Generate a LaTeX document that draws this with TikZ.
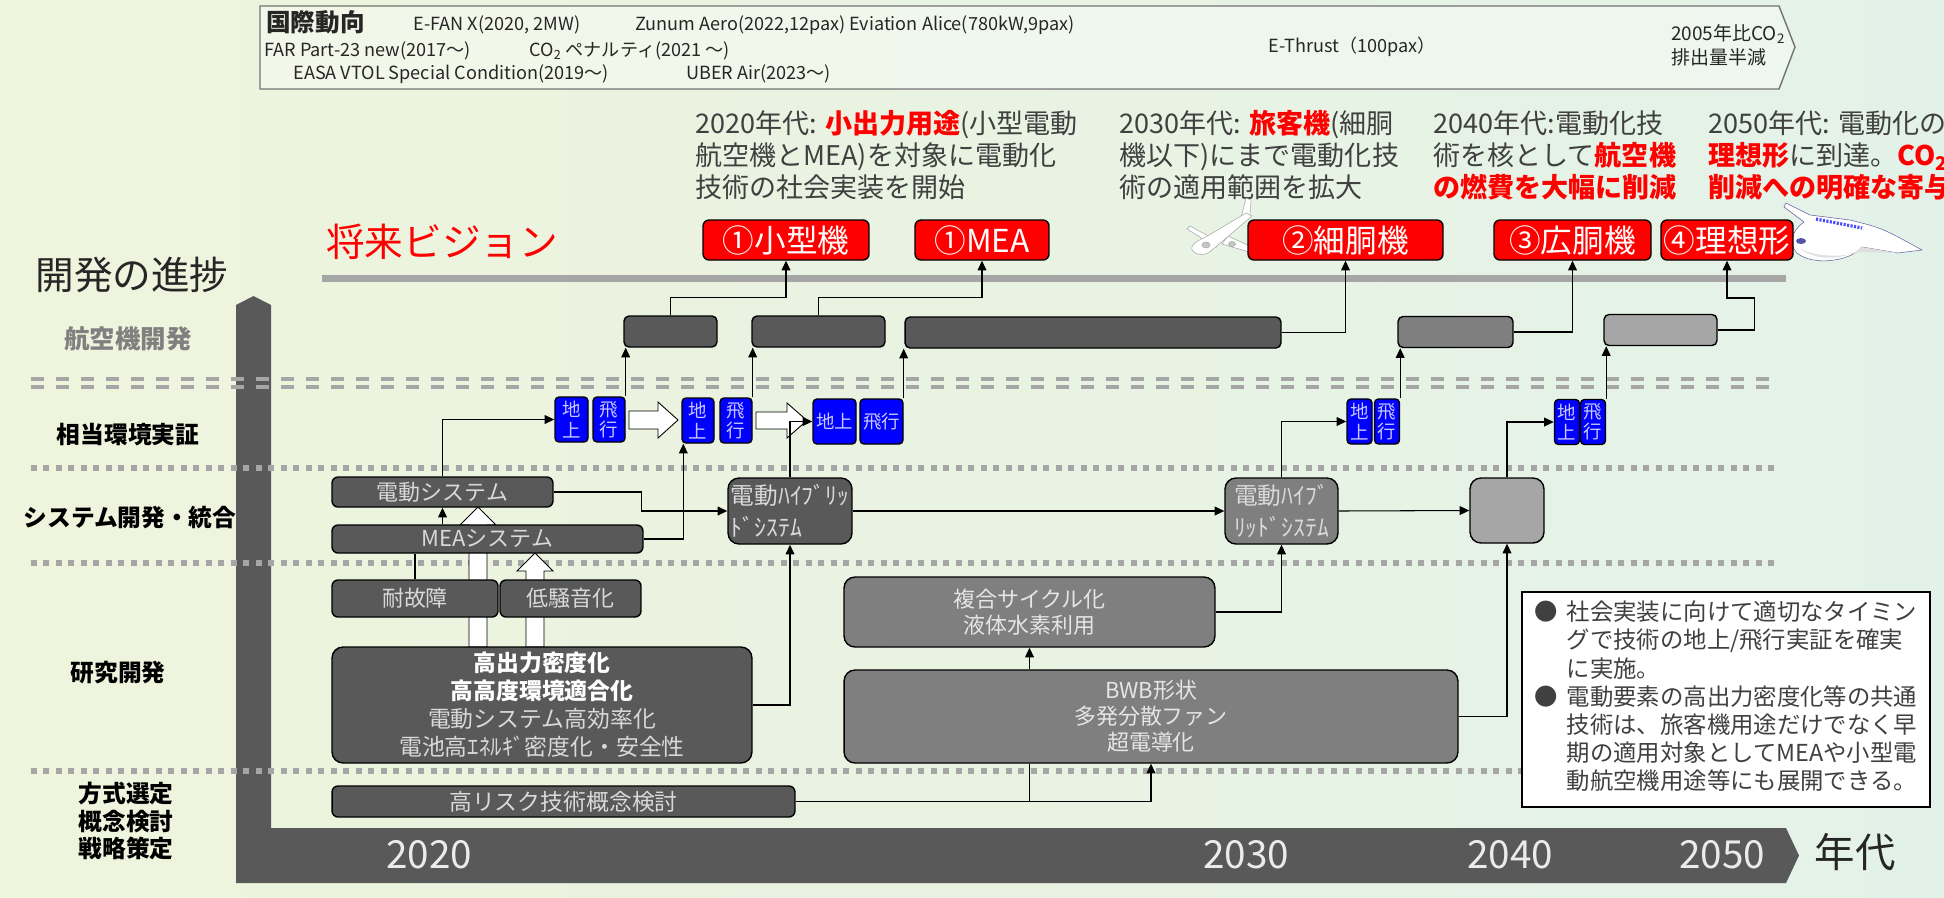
\documentclass[tikz,border=0pt]{standalone}
\usepackage{fontspec}
\setmainfont{Noto Sans CJK JP}
\usetikzlibrary{arrows.meta,calc}

\definecolor{boxdark}{HTML}{595959}
\definecolor{boxmid}{HTML}{7F7F7F}
\definecolor{boxlight}{HTML}{A6A6A6}
\definecolor{linegray}{HTML}{A6A6A6}
\definecolor{txtlight}{HTML}{D9D9D9}
\definecolor{txtdesc}{HTML}{404040}
\definecolor{bgleft}{HTML}{EFF4DC}
\definecolor{bgright}{HTML}{E3F2E8}
\definecolor{demoblue}{HTML}{0000FF}
\definecolor{demotxt}{HTML}{C8C8FF}

\newcommand{\redbf}[1]{{\color{red}\bfseries #1}}

\begin{document}
\begin{tikzpicture}[x=0.02cm, y=-0.02cm,
    vis/.style={draw=black, line width=0.8pt, fill=red, text=white, rounded corners=0.12cm, minimum height=0.8cm, inner sep=0pt, font=\fontsize{18}{20}\selectfont},
    dev/.style={draw=black, line width=0.8pt, fill=boxdark, rounded corners=0.1cm, minimum height=0.62cm, inner sep=0pt},
    demo/.style={draw=black, line width=0.8pt, fill=demoblue, text=demotxt, rounded corners=0.08cm, minimum height=0.9cm, inner sep=0pt, align=center, font=\fontsize{10.5}{11.5}\selectfont},
    rd/.style={draw=black, line width=0.8pt, fill=boxdark, text=txtlight, rounded corners=0.12cm, inner sep=0pt, align=center, font=\fontsize{12.5}{15.5}\selectfont},
    hyb/.style={rd, rounded corners=0.22cm, minimum width=2.48cm, minimum height=1.32cm, align=left, font=\fontsize{13.5}{18}\selectfont},
    trend/.style={anchor=west, inner sep=0pt, text=black!85, font=\fontsize{10.3}{12}\selectfont},
    desc/.style={anchor=west, align=left, inner sep=0pt, text=txtdesc, font=\fontsize{15.4}{18.2}\selectfont},
    rowlbl/.style={align=center, inner sep=0pt, font=\bfseries\fontsize{13.5}{15.5}\selectfont},
    yr/.style={text=white!92!black, inner sep=0pt, font=\fontsize{22}{24}\selectfont},
    dbl/.style={linegray, line width=0.08cm, dash pattern=on 0.26cm off 0.24cm},
    sq/.style={linegray, line width=0.12cm, dash pattern=on 0.12cm off 0.13cm},
    wblock/.style={draw=black, line width=0.5pt, fill=white},
    conn/.style={-{Triangle[length=5.5pt,width=5pt]}, line width=0.6pt}
]
    \useasboundingbox (0,0) rectangle (1944,897);
    \clip (0,0) rectangle (1944,897);
    \shade[left color=bgleft, right color=bgright] (0,0) rectangle (1944,897);

    % international trends banner
    \draw[black!55, line width=0.8pt, fill=white, fill opacity=0.35] (260,6) -- (1779,6) -- (1795,47) -- (1779,89) -- (260,89) -- cycle;
    \node[trend, font=\bfseries\fontsize{14}{15}\selectfont] (intl) at (266,22) {国際動向};
    \node[trend] (efan) at (413,25) {E-FAN X(2020, 2MW)};
    \node[trend] (zunum) at (635,25) {Zunum Aero(2022,12pax)};
    \node[trend] (alice) at (849,25) {Eviation Alice(780kW,9pax)};
    \node[trend] (far) at (264,51) {FAR Part-23 new(2017～)};
    \node[trend] (co2pen) at (529,51) {CO\textsubscript{2} ペナルティ(2021 ～)};
    \node[trend] (easa) at (293,74) {EASA VTOL Special Condition(2019～)};
    \node[trend] (uber) at (686,74) {UBER Air(2023～)};
    \node[trend] (ethrust) at (1268,47) {E-Thrust（100pax）};
    \node[trend, align=left, font=\fontsize{10.8}{13.5}\selectfont] (half) at (1671,45) {2005年比CO\textsubscript{2}\\排出量半減};

    % decade goals
    \node[desc] (d2020) at (695,155) {2020年代: \redbf{小出力用途}(小型電動\\航空機とMEA)を対象に電動化\\技術の社会実装を開始};
    \node[desc] (d2030) at (1119,155) {2030年代: \redbf{旅客機}(細胴\\機以下)にまで電動化技\\術の適用範囲を拡大};
    \node[desc] (d2040) at (1433,155) {2040年代:電動化技\\術を核として\redbf{航空機}\\\redbf{の燃費を大幅に削減}};
    \node[desc] (d2050) at (1708,155) {2050年代: 電動化の\\\redbf{理想形}に到達。\redbf{CO\textsubscript{2}}\\\redbf{削減への明確な寄与}};

    \node[text=red, font=\fontsize{22}{24}\selectfont] (vision) at (442,242) {将来ビジョン};
    \node[text=black!85, font=\fontsize{22}{24}\selectfont] (progress) at (132,275) {開発の進捗};
    \draw[linegray, line width=0.14cm] (322,278) -- (1786,278);

    % aircraft pictures
    \begin{scope}[line width=0.3pt]
        \filldraw[fill=white, draw=gray!70] (1212,238) -- (1190,226) -- (1187,229) -- (1216,247) -- cycle;
        \filldraw[fill=white, draw=gray!70] (1228,236) -- (1252,247) -- (1249,252) -- (1222,244) -- cycle;
        \filldraw[fill=white, draw=gray!70] (1241,218) -- (1246,198) -- (1251,200) -- (1250,215) -- cycle;
        \filldraw[fill=white, draw=gray!70] (1192,250) .. controls (1190,246) and (1196,241) .. (1204,238) -- (1246,213) -- (1252,216) -- (1212,250) .. controls (1206,256) and (1196,256) .. (1192,250) -- cycle;
        \filldraw[fill=gray!45, draw=gray!70] (1206,245) ellipse (4 and 3);
        \filldraw[fill=gray!45, draw=gray!70] (1232,244) ellipse (3.5 and 2.5);
        \filldraw[fill=white, draw=blue!25!gray] (1786,203) -- (1810,215) -- (1850,220) .. controls (1882,228) .. (1922,250) -- (1898,253) -- (1862,247) .. controls (1850,262) and (1812,266) .. (1797,253) .. controls (1788,244) and (1792,230) .. (1804,222) -- (1784,207) -- cycle;
        \fill[gray!25] (1800,248) .. controls (1815,262) and (1848,260) .. (1862,247) -- (1898,253) -- (1860,252) .. controls (1845,257) and (1815,258) .. cycle;
        \draw[blue!70, line width=1.8pt, dash pattern=on 1.2pt off 0.8pt] (1816,219) -- (1862,228);
        \fill[blue!35!gray] (1801,241) ellipse (5 and 3);
    \end{scope}

    % vision targets
    \node[vis, minimum width=3.32cm] (R1) at (786,240) {①小型機};
    \node[vis, minimum width=2.68cm] (R2) at (982,240) {①MEA};
    \node[vis, minimum width=3.9cm] (R3) at (1345.5,240) {②細胴機};
    \node[vis, minimum width=3.14cm] (R4) at (1572.5,240) {③広胴機};
    \node[vis, minimum width=2.64cm] (R5) at (1727,240) {④理想形};

    % axis
    \fill[boxdark] (236,305) -- (253.5,296) -- (271,305) -- (271,828) -- (1786,828) -- (1799,855.5) -- (1786,883) -- (236,883) -- cycle;
    \node[yr] (y2020) at (429,855) {2020};
    \node[yr] (y2030) at (1246,855) {2030};
    \node[yr] (y2040) at (1510,855) {2040};
    \node[yr] (y2050) at (1722,855) {2050};
    \node[text=black!85, font=\fontsize{23}{25}\selectfont] (decade) at (1855,852) {年代};

    % row separators
    \draw[dbl] (31,379) -- (1775,379);
    \draw[dbl] (31,387) -- (1775,387);
    \draw[sq] (31,468) -- (1775,468);
    \draw[sq] (31,563) -- (1775,563);
    \draw[sq] (31,771) -- (1775,771);

    % row labels
    \node[rowlbl, text=black!50, font=\bfseries\fontsize{14.5}{16}\selectfont] (lbl1) at (128,339) {航空機開発};
    \node[rowlbl] (lbl2) at (128,435) {相当環境実証};
    \node[rowlbl] (lbl3) at (130,518) {システム開発・統合};
    \node[rowlbl] (lbl4) at (118,673) {研究開発};
    \node[rowlbl, font=\bfseries\fontsize{13.5}{15.8}\selectfont] (lbl5) at (126,821) {方式選定\\概念検討\\戦略策定};

    % aircraft development
    \node[dev, minimum width=1.86cm] (A1) at (670.5,331.5) {};
    \node[dev, minimum width=2.66cm] (A2) at (818.5,331.5) {};
    \node[dev, minimum width=7.52cm] (A3) at (1093,332.5) {};
    \node[dev, fill=boxmid, minimum width=2.3cm] (A4) at (1455.5,332) {};
    \node[dev, fill=boxlight, minimum width=2.26cm] (A5) at (1660.5,330) {};

    % ground / flight demonstrations
    \node[demo, minimum width=0.66cm] (P1a) at (571.5,419.5) {地\\上};
    \node[demo, minimum width=0.64cm] (P1b) at (609,419.5) {飛\\行};
    \node[demo, minimum width=0.64cm] (P2a) at (698,420.5) {地\\上};
    \node[demo, minimum width=0.64cm] (P2b) at (736,420.5) {飛\\行};
    \node[demo, minimum width=0.86cm] (P3a) at (834.5,421.5) {地上};
    \node[demo, minimum width=0.86cm] (P3b) at (881.5,421.5) {飛行};
    \node[demo, minimum width=0.5cm] (P4a) at (1359.5,421.5) {地\\上};
    \node[demo, minimum width=0.5cm] (P4b) at (1387,421.5) {飛\\行};
    \node[demo, minimum width=0.5cm] (P5a) at (1567,422) {地\\上};
    \node[demo, minimum width=0.5cm] (P5b) at (1593,422) {飛\\行};
    \draw[wblock] (629,411) -- (658,411) -- (658,402) -- (678,420) -- (658,438) -- (658,429) -- (629,429) -- cycle;
    \draw[wblock] (756,412) -- (787,412) -- (787,403) -- (807,420.5) -- (787,438) -- (787,429) -- (756,429) -- cycle;

    % white arrows from core research (run behind the boxes)
    \draw[wblock] (469,647) -- (469,525) -- (460,525) -- (478,507) -- (496,525) -- (487,525) -- (487,647) -- cycle;
    \draw[wblock] (526,647) -- (526,571) -- (517,571) -- (535,553) -- (553,571) -- (544,571) -- (544,647) -- cycle;

    % system development
    \node[rd, minimum width=4.42cm, minimum height=0.6cm] (E1) at (442.5,492) {電動システム};
    \node[rd, minimum width=6.22cm, minimum height=0.56cm] (M1) at (487.5,539) {MEAシステム};
    \node[hyb] (H1) at (790,511) {電動ﾊｲﾌﾞﾘｯ\\ﾄﾞｼｽﾃﾑ};
    \node[hyb, fill=boxmid, minimum width=2.26cm] (H2) at (1281.5,511) {電動ﾊｲﾌﾞ\\ﾘｯﾄﾞｼｽﾃﾑ};
    \node[hyb, fill=boxlight, minimum width=1.48cm, minimum height=1.3cm] (H3) at (1507,510.5) {};

    % research
    \node[rd, minimum width=3.32cm, minimum height=0.74cm] (F1) at (415,598.5) {耐故障};
    \node[rd, minimum width=2.82cm, minimum height=0.74cm] (N1) at (570.5,598.5) {低騒音化};
    \node[rd, rounded corners=0.22cm, minimum width=8.4cm, minimum height=2.32cm, font=\fontsize{13}{15.9}\selectfont] (B1) at (542,705)
        {\textcolor{white}{\bfseries 高出力密度化}\\\textcolor{white}{\bfseries 高高度環境適合化}\\電動システム高効率化\\電池高ｴﾈﾙｷﾞ密度化・安全性};
    \node[rd, fill=boxmid, text=white!90!black, rounded corners=0.22cm, minimum width=7.42cm, minimum height=1.4cm, font=\fontsize{12.5}{14.8}\selectfont] (C1) at (1029.5,612) {複合サイクル化\\液体水素利用};
    \node[rd, fill=boxmid, text=white!90!black, rounded corners=0.22cm, minimum width=12.28cm, minimum height=1.86cm, font=\fontsize{12.5}{14.8}\selectfont] (W1) at (1151,716.5) {BWB形状\\多発分散ファン\\超電導化};
    \node[rd, minimum width=9.26cm, minimum height=0.62cm, font=\fontsize{13}{15}\selectfont] (K1) at (563.5,801.5) {高リスク技術概念検討};

    % notes
    \node[draw=black, line width=0.8pt, fill=white, minimum width=8.16cm, minimum height=4.3cm, inner sep=0pt, text=txtdesc, font=\fontsize{13.3}{15.9}\selectfont] (note) at (1726,699.5)
        {\begin{tabular}{@{}l@{\hspace{5pt}}l@{}}
         ● & 社会実装に向けて適切なタイミン\\
           & グで技術の地上/飛行実証を確実\\
           & に実施。\\
         ● & 電動要素の高出力密度化等の共通\\
           & 技術は、旅客機用途だけでなく早\\
           & 期の適用対象としてMEAや小型電\\
           & 動航空機用途等にも展開できる。
         \end{tabular}};

    % connectors
    \draw[conn] (E1.north) |- (P1a.west);
    \draw[conn] (E1.east) -- ++(88,0) |- (H1.west);
    \draw[conn] (M1.east) -| ($(P2a.south west)+(2,0)$);
    \draw[conn] (E1.south |- M1.north) -- (E1.south);
    \draw[line width=0.6pt] (F1.north) -- (F1.north |- M1.south);
    \draw[conn] (B1.east) -| (H1.south);
    \draw[conn] (H1.north) |- (P3a.west);
    \draw[conn] (H1.east) -- (H2.west);
    \draw[conn] (H2.north) |- (P4a.west);
    \draw[conn] (H2.east) -- (H3.west);
    \draw[conn] (H3.north) |- (P5a.west);
    \draw[conn] (C1.east) -| (H2.south);
    \draw[conn] (C1.south |- W1.north) -- (C1.south);
    \draw[conn] (W1.east) -| (H3.south);
    \draw[conn] (K1.east) -| (W1.south);
    \draw[line width=0.6pt] (C1.south |- K1.east) -- (C1.south |- W1.south);
    \draw[conn] (P1b.north east) -- (P1b.north east |- A1.south);
    \draw[conn] (P2b.north east) -- (P2b.north east |- A2.south);
    \draw[conn] (P3b.north east) -- (P3b.north east |- A3.south);
    \draw[conn] (P4b.north east) -- (P4b.north east |- A4.south);
    \draw[conn] (P5b.north east) -- (P5b.north east |- A5.south);
    \draw[conn] (A1.north) -- ++(0,-18) -| (R1.south);
    \draw[conn] (A2.north) -- ++(0,-18) -| (R2.south);
    \draw[conn] (A3.east) -| (R3.south);
    \draw[conn] (A4.east) -| (R4.south);
    \draw[conn] (A5.east) -- ++(37,0) -- ++(0,-32) -| (R5.south);
\end{tikzpicture}
\end{document}
